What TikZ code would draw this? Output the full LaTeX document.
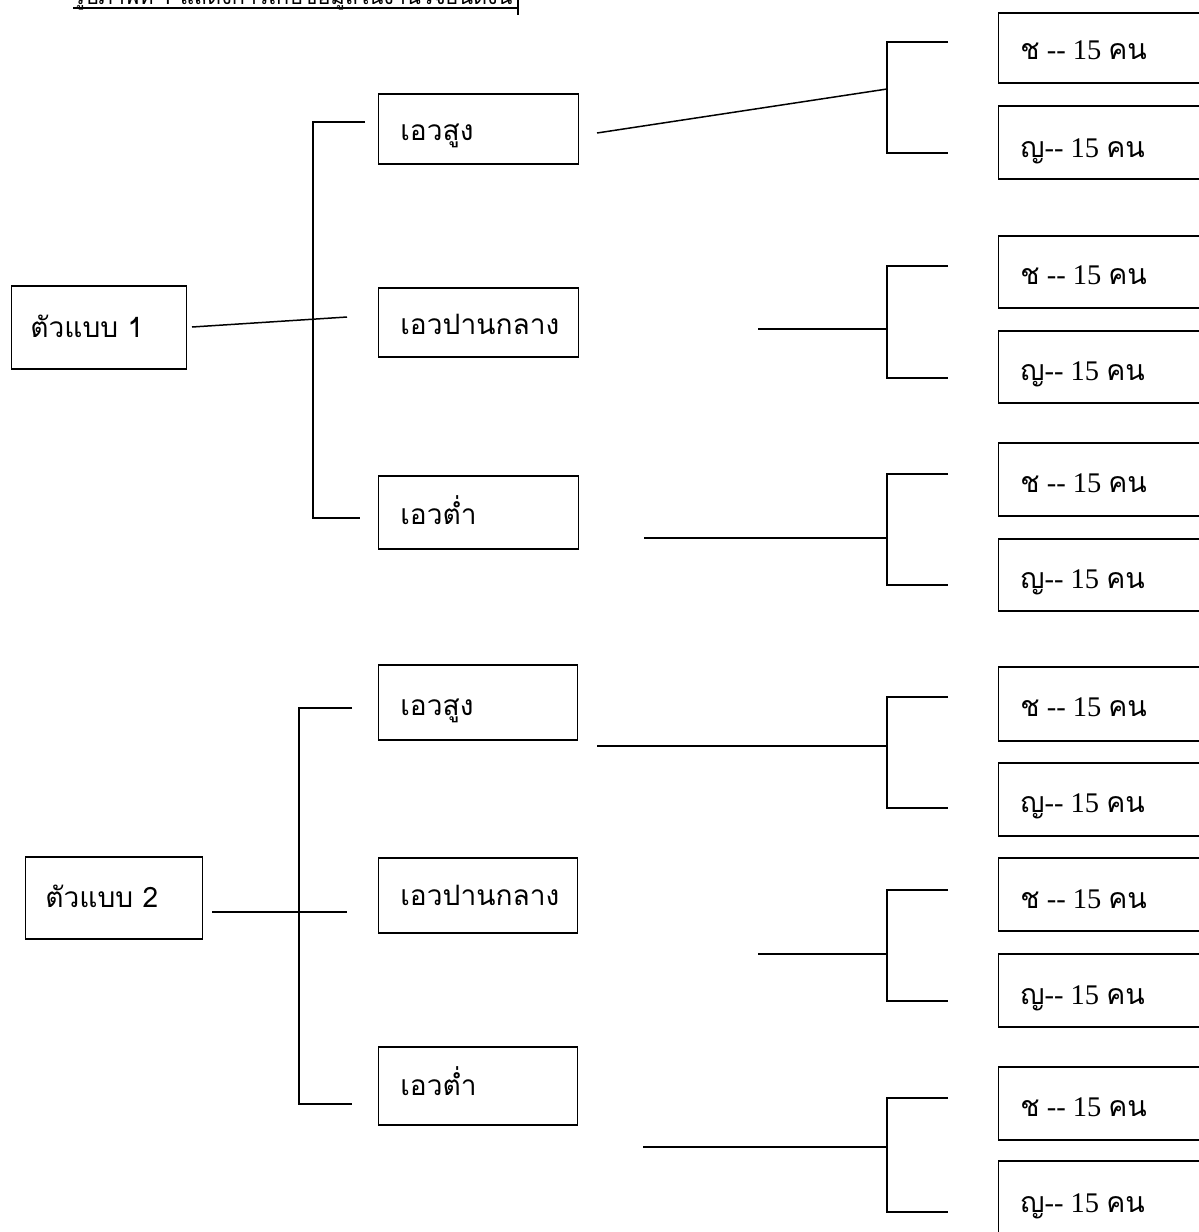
\documentclass[tikz,border=0pt]{standalone}
\usepackage{fontspec}
\newfontfamily\thai[Script=Thai]{Loma}
\newfontfamily\serifnum{Liberation Serif}
\newcommand\midfont{\thai\fontsize{16pt}{19pt}\selectfont}
\newcommand\titlefont{\thai\fontsize{12.3pt}{15pt}\selectfont}
\newcommand\rfont{\fontsize{16.2pt}{19pt}\selectfont}
% box: name, left, top, right, bottom
\newcommand\pbox[5]{\node[boxst, anchor=north west, minimum width={(#4-#2)*0.02cm}, minimum height={(#5-#3)*0.02cm}] (#1) at (#2,#3) {};}
\newcommand\rlabel{{\thai ช}{\serifnum\ -{}- 15 }{\thai คน}}
\newcommand\flabel{{\thai ญ}{\serifnum -{}- 15 }{\thai คน}}
\begin{document}
\begin{tikzpicture}[x=0.02cm,y=-0.02cm,
  boxst/.style={draw, line width=0.85pt, inner sep=0pt},
  con/.style={line width=0.85pt},
  txt/.style={anchor=base west, inner sep=0pt}]
\useasboundingbox (0,0) rectangle (1199,1232);
\clip (0,0) rectangle (1199,1232);
% title (cut off at top)
\node[txt] (title) at (73,4) {\titlefont รูปภาพที่ 1 แสดงการเก็บข้อมูลในงานวิจัยนี้ดังนี้};
\coordinate (ul1) at (73,8); \coordinate (ul2) at (518,8);
\coordinate (tk1) at (518,0); \coordinate (tk2) at (518,15);
\draw[line width=0.6pt] (ul1) -- (ul2);
\draw[line width=0.6pt] (tk1) -- (tk2);

% ---- level 1 boxes
\pbox{m1}{11}{285}{186}{368}
\node[txt] (m1t) at (30,337) {\midfont ตัวแบบ 1};
\pbox{m2}{25}{856}{202}{938}
\node[txt] (m2t) at (45,907) {\midfont ตัวแบบ 2};

% ---- level 2 boxes
\pbox{a1}{378}{93}{578}{163}   \node[txt] (a1t) at (400,140) {\midfont เอวสูง};
\pbox{a2}{378}{287}{578}{356}  \node[txt] (a2t) at (400,334) {\midfont เอวปานกลาง};
\pbox{a3}{378}{475}{578}{548}  \node[txt] (a3t) at (400,524) {\midfont เอวต่ำ};
\pbox{b1}{378}{664}{577}{739}  \node[txt] (b1t) at (400,715) {\midfont เอวสูง};
\pbox{b2}{378}{857}{577}{932}  \node[txt] (b2t) at (400,905) {\midfont เอวปานกลาง};
\pbox{b3}{378}{1046}{577}{1124} \node[txt] (b3t) at (400,1095) {\midfont เอวต่ำ};

% ---- level 3 boxes (right, clipped)
\pbox{r1}{998}{12}{1230}{82}     \node[txt] (r1t) at (1020,59) {\rfont\rlabel};
\pbox{r2}{998}{105}{1230}{178}   \node[txt] (r2t) at (1020,157) {\rfont\flabel};
\pbox{r3}{998}{235}{1230}{307}   \node[txt] (r3t) at (1020,284) {\rfont\rlabel};
\pbox{r4}{998}{330}{1230}{402}   \node[txt] (r4t) at (1020,380) {\rfont\flabel};
\pbox{r5}{998}{442}{1230}{515}   \node[txt] (r5t) at (1020,492) {\rfont\rlabel};
\pbox{r6}{998}{538}{1230}{610}   \node[txt] (r6t) at (1020,588) {\rfont\flabel};
\pbox{r7}{998}{666}{1230}{740}   \node[txt] (r7t) at (1020,716) {\rfont\rlabel};
\pbox{r8}{998}{762}{1230}{835}   \node[txt] (r8t) at (1020,812) {\rfont\flabel};
\pbox{r9}{998}{857}{1230}{930}   \node[txt] (r9t) at (1020,908) {\rfont\rlabel};
\pbox{r10}{998}{953}{1230}{1026} \node[txt] (r10t) at (1020,1004) {\rfont\flabel};
\pbox{r11}{998}{1066}{1230}{1139} \node[txt] (r11t) at (1020,1116) {\rfont\rlabel};
\pbox{r12}{998}{1160}{1230}{1245} \node[txt] (r12t) at (1020,1212) {\rfont\flabel};

% ---- connectors group 1
\coordinate (c1a) at (192,327); \coordinate (c1b) at (347,317);
\draw[con] (c1a) -- (c1b);
\coordinate (v1t) at (313,122); \coordinate (v1b) at (313,518);
\coordinate (v1te) at (365,122); \coordinate (v1be) at (360,518);
\draw[con] (v1te) -- (v1t) -- (v1b) -- (v1be);

\coordinate (p1a) at (597,133); \coordinate (p1b) at (887,89);
\draw[con] (p1a) -- (p1b);
\coordinate (q1t) at (948,42); \coordinate (q1b) at (948,153);
\draw[con] (q1t) -- (887,42) -- (887,153) -- (q1b);

\coordinate (p2a) at (758,329); \coordinate (p2b) at (887,329);
\draw[con] (p2a) -- (p2b);
\coordinate (q2t) at (948,266); \coordinate (q2b) at (948,378);
\draw[con] (q2t) -- (887,266) -- (887,378) -- (q2b);

\coordinate (p3a) at (644,538); \coordinate (p3b) at (887,538);
\draw[con] (p3a) -- (p3b);
\coordinate (q3t) at (948,474); \coordinate (q3b) at (948,585);
\draw[con] (q3t) -- (887,474) -- (887,585) -- (q3b);

% ---- connectors group 2
\coordinate (c2a) at (212,912); \coordinate (c2b) at (347,912);
\draw[con] (c2a) -- (c2b);
\coordinate (v2te) at (352,708); \coordinate (v2be) at (352,1104);
\draw[con] (v2te) -- (299,708) -- (299,1104) -- (v2be);

\coordinate (p4a) at (597,746); \coordinate (p4b) at (887,746);
\draw[con] (p4a) -- (p4b);
\coordinate (q4t) at (948,697); \coordinate (q4b) at (948,808);
\draw[con] (q4t) -- (887,697) -- (887,808) -- (q4b);

\coordinate (p5a) at (758,954); \coordinate (p5b) at (887,954);
\draw[con] (p5a) -- (p5b);
\coordinate (q5t) at (948,890); \coordinate (q5b) at (948,1001);
\draw[con] (q5t) -- (887,890) -- (887,1001) -- (q5b);

\coordinate (p6a) at (643,1147); \coordinate (p6b) at (887,1147);
\draw[con] (p6a) -- (p6b);
\coordinate (q6t) at (948,1098); \coordinate (q6b) at (948,1212);
\draw[con] (q6t) -- (887,1098) -- (887,1212) -- (q6b);
\end{tikzpicture}
\end{document}
